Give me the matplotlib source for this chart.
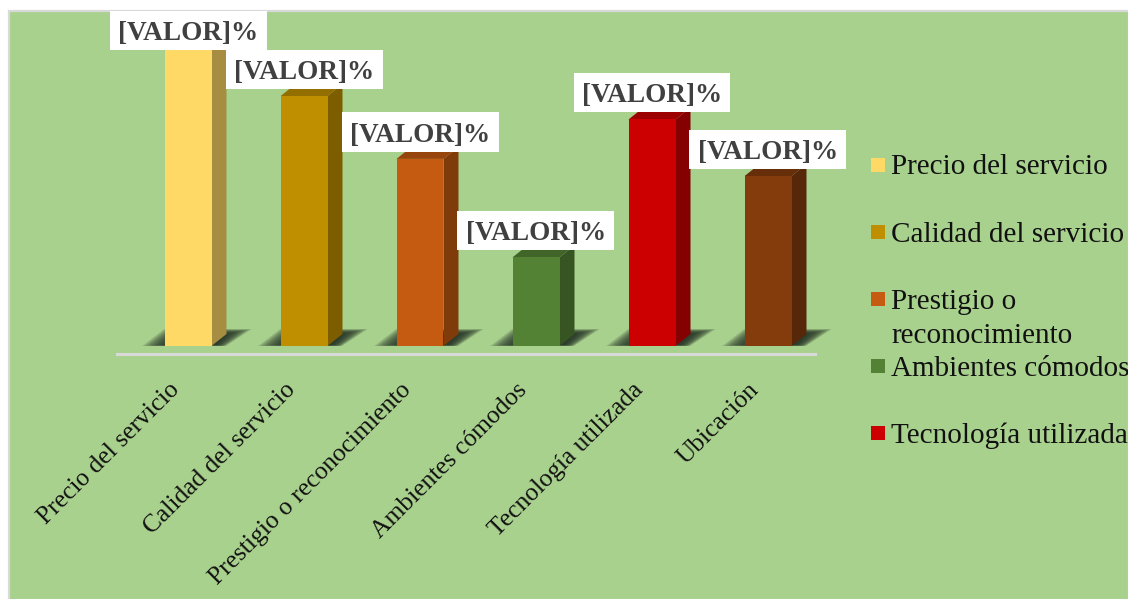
import matplotlib
matplotlib.use("Agg")
import matplotlib.pyplot as plt
from matplotlib.patches import Polygon, Rectangle
from matplotlib.colors import to_rgb
from matplotlib.transforms import ScaledTranslation

plt.rcParams['font.family'] = ['Liberation Serif', 'DejaVu Serif']

# Datos del grafico
categorias = ['Precio del servicio', 'Calidad del servicio', 'Prestigio o reconocimiento',
              'Ambientes cómodos', 'Tecnología utilizada', 'Ubicación']
valores = [25.0, 20.3, 15.2, 7.2, 18.4, 13.8]
colores = ['#FFD966', '#BF8F00', '#C55A11', '#548235', '#CC0000', '#843C0C']
etiqueta = '[VALOR]%'
leyenda = ['Precio del servicio', 'Calidad del servicio', 'Prestigio o\nreconocimiento',
           'Ambientes cómodos', 'Tecnología utilizada']
leyenda_y = [165, 232, 299, 366, 433]

W, H = 1128, 599
FONDO = '#A9D18E'
GRIS = '#D9D9D9'

fig = plt.figure(figsize=(W / 100, H / 100), dpi=100, facecolor='white')

# Marco verde del area del grafico
fig.add_artist(Rectangle((8.5 / W, -0.01), (W - 8) / W, (H - 11) / H + 0.01, transform=fig.transFigure,
                         facecolor=FONDO, edgecolor=GRIS, linewidth=1.6, zorder=-1))

# Ejes: una categoria = 116 px, un punto porcentual = 12.31 px
izq, der, arriba, abajo = 117, 815, 12, 354
ax = fig.add_axes([izq / W, 1 - abajo / H, (der - izq) / W, (abajo - arriba) / H])
ax.patch.set_alpha(0)
PX_X = 116
PX_Y = 12.31
ax.set_xlim((izq - 188) / PX_X, (der - 188) / PX_X)
ax.set_ylim((346 - abajo) / PX_Y, (346 - arriba) / PX_Y)

for s in ['top', 'left', 'right']:
    ax.spines[s].set_visible(False)
ax.spines['bottom'].set_color(GRIS)
ax.spines['bottom'].set_linewidth(2.2)
ax.set_yticks([])

ancho = 47 / PX_X
dx = 15 / PX_X
dy = 12 / PX_Y


def oscurecer(color, f):
    return tuple(c * f for c in to_rgb(color))


# Sombra difuminada en el piso, hecha con capas translucidas
def sombra(x):
    capas = 18
    for i in range(capas):
        t = i / (capas - 1)
        yb = (0 + 1 * t) / PX_Y
        yt = (17 - 5 * t) / PX_Y
        pts = [(x + (-46 + 28 * t) / PX_X, yb), (x + (-24 + 18 * t) / PX_X, yt),
               (x + (64 - 26 * t) / PX_X, yt), (x + (38 - 10 * t) / PX_X, yb)]
        ax.add_patch(Polygon(pts, closed=True, facecolor='#263326', edgecolor='none', alpha=0.13,
                             zorder=1, clip_on=False))


xs = list(range(len(valores)))
for x in xs:
    sombra(x)

ax.bar(xs, valores, width=ancho, color=colores, zorder=3)

# Caras lateral y superior de cada columna
for x, v, c in zip(xs, valores, colores):
    d = x + ancho / 2
    e = x - ancho / 2
    ax.add_patch(Polygon([(d, 0), (d + dx, dy), (d + dx, v + dy), (d, v)], closed=True,
                         facecolor=oscurecer(c, 0.65), edgecolor='none', zorder=2))
    ax.add_patch(Polygon([(e, v), (e + dx, v + dy), (d + dx, v + dy), (d, v)], closed=True,
                         facecolor=oscurecer(c, 0.77), edgecolor='none', zorder=2))

# Etiquetas de datos en cajas blancas; la primera queda limitada por el borde superior
tope = (346 - 31) / PX_Y
for x, v in zip(xs, valores):
    y = min(v + 26 / PX_Y, tope)
    ax.add_patch(Rectangle((x - 78.5 / PX_X, y - 19 / PX_Y), 157 / PX_X, 39.5 / PX_Y, facecolor='white',
                           edgecolor='none', zorder=5, clip_on=False))
    ax.text(x, y - 2.5 / PX_Y, etiqueta, ha='center', va='center', fontsize=19.6, fontweight='bold',
            color='#404040', zorder=6, clip_on=False)

ax.set_xticks(xs)
ax.set_xticklabels(categorias, rotation=45, ha='right', rotation_mode='anchor',
                   fontsize=18.4, color='#111111')
ax.tick_params(axis='x', length=0, pad=18)
desplazo = ScaledTranslation(-20 / 100, 0, fig.dpi_scale_trans)
for lab in ax.get_xticklabels():
    lab.set_transform(lab.get_transform() + desplazo)

# Leyenda manual a la derecha
for y, c, txt in zip(leyenda_y, colores, leyenda):
    fig.add_artist(Rectangle((871 / W, 1 - (y + 7) / H), 14 / W, 14 / H, transform=fig.transFigure,
                             facecolor=c, edgecolor='none'))
    if '\n' in txt:
        fig.text(891 / W, 1 - (y + 20) / H, txt, ha='left', va='center', fontsize=21, color='#111111', linespacing=1.36)
    else:
        fig.text(891 / W, 1 - (y + 2.5) / H, txt, ha='left', va='center', fontsize=21, color='#111111')

fig.savefig('out.png', dpi=100)
